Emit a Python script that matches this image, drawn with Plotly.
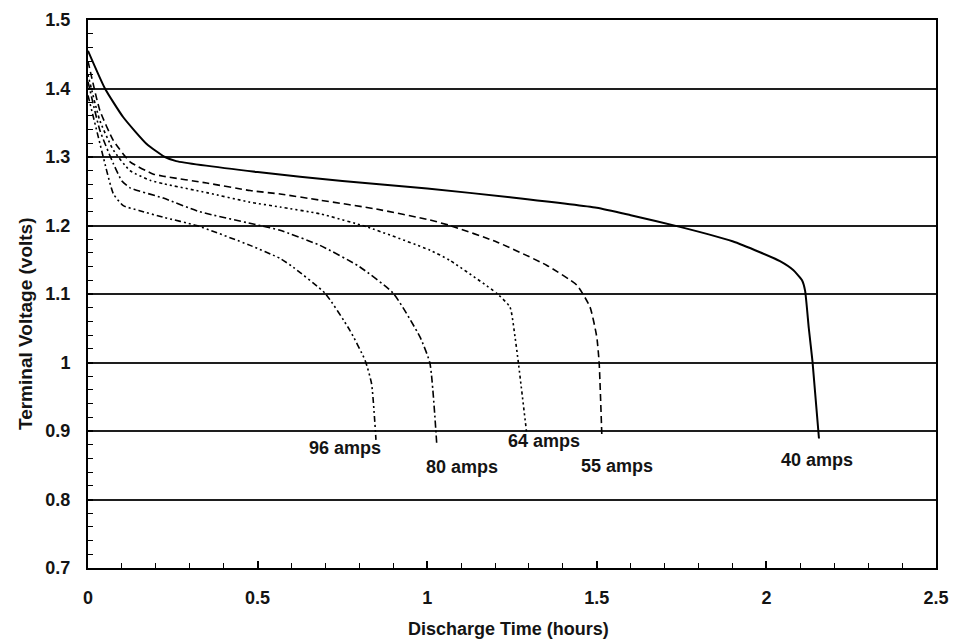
import plotly.graph_objects as go

# ---- data ----
amps40_x = [0, 0.05, 0.104, 0.173, 0.227, 0.26, 0.5, 0.75, 1.0, 1.25, 1.5, 1.6, 1.745, 1.9, 1.981, 2.04, 2.079, 2.105, 2.114, 2.125, 2.136, 2.155]
amps40_y = [1.455, 1.40, 1.358, 1.319, 1.30, 1.294, 1.278, 1.265, 1.254, 1.241, 1.226, 1.215, 1.198, 1.177, 1.161, 1.148, 1.135, 1.12, 1.105, 1.05, 1.001, 0.889]

amps55_x = [0, 0.035, 0.075, 0.124, 0.193, 0.222, 0.35, 0.478, 0.566, 0.684, 0.85, 1.008, 1.067, 1.205, 1.352, 1.441, 1.48, 1.50, 1.507, 1.515]
amps55_y = [1.44, 1.368, 1.324, 1.293, 1.275, 1.272, 1.262, 1.251, 1.246, 1.237, 1.224, 1.208, 1.200, 1.176, 1.142, 1.113, 1.081, 1.037, 0.999, 0.891]

amps64_x = [0, 0.035, 0.075, 0.124, 0.183, 0.222, 0.35, 0.478, 0.566, 0.684, 0.822, 1.008, 1.067, 1.205, 1.244, 1.259, 1.269, 1.293]
amps64_y = [1.42, 1.353, 1.31, 1.28, 1.266, 1.261, 1.248, 1.234, 1.227, 1.217, 1.198, 1.164, 1.149, 1.101, 1.081, 1.037, 0.999, 0.898]

amps80_x = [0, 0.035, 0.075, 0.10, 0.124, 0.222, 0.33, 0.507, 0.566, 0.684, 0.80, 0.90, 0.979, 1.008, 1.028]
amps80_y = [1.41, 1.339, 1.29, 1.265, 1.255, 1.240, 1.220, 1.200, 1.193, 1.171, 1.140, 1.101, 1.037, 0.999, 0.882]

amps96_x = [0, 0.035, 0.045, 0.075, 0.104, 0.15, 0.222, 0.32, 0.478, 0.566, 0.605, 0.699, 0.772, 0.817, 0.836, 0.849]
amps96_y = [1.39, 1.32, 1.30, 1.246, 1.229, 1.222, 1.212, 1.200, 1.171, 1.152, 1.139, 1.101, 1.047, 1.003, 0.969, 0.887]

label_text = ["96 amps", "80 amps", "64 amps", "55 amps", "40 amps"]
label_x = [0.758, 1.103, 1.344, 1.56, 2.149]
label_y = [0.875, 0.847, 0.885, 0.849, 0.858]

x_ticks = [0, 0.5, 1, 1.5, 2, 2.5]
x_tick_text = ["0", "0.5", "1", "1.5", "2", "2.5"]
y_ticks = [0.7, 0.8, 0.9, 1.0, 1.1, 1.2, 1.3, 1.4, 1.5]
y_tick_text = ["0.7", "0.8", "0.9", "1", "1.1", "1.2", "1.3", "1.4", "1.5"]

x_title = "Discharge Time (hours)"
y_title = "Terminal Voltage (volts)"

FONT = "Liberation Sans, Arial, sans-serif"
INK = "#141414"

series = [
    (amps40_x, amps40_y, "solid", 2.0),
    (amps55_x, amps55_y, "7px,4px", 1.6),
    (amps64_x, amps64_y, "2px,3px,2px,3px,3px,3px", 1.6),
    (amps80_x, amps80_y, "7px,3px,2px,3px", 1.6),
    (amps96_x, amps96_y, "6px,3px,2px,3px,2px,3px", 1.6),
]

fig = go.Figure()
for xs, ys, dash, w in series:
    fig.add_trace(go.Scatter(
        x=xs, y=ys, mode="lines",
        line=dict(color="black", width=w, dash=dash, shape="spline", smoothing=0.5),
        showlegend=False, hoverinfo="skip",
    ))

bold18 = dict(family=FONT, size=18, color=INK, weight="bold")

for t, lx, ly in zip(label_text, label_x, label_y):
    fig.add_annotation(x=lx, y=ly, text=t, showarrow=False, font=bold18,
                       xanchor="center", yanchor="middle")

# axis titles
fig.add_annotation(xref="paper", yref="paper", x=0.496, y=-0.111, text=x_title,
                   showarrow=False, font=bold18, xanchor="center", yanchor="middle")
fig.add_annotation(xref="paper", yref="paper", x=-0.0743, y=0.447, text=y_title,
                   showarrow=False, textangle=-90,
                   font=dict(family=FONT, size=19, color=INK, weight="bold"),
                   xanchor="center", yanchor="middle")

axis_common = dict(
    showline=True, linecolor="black", linewidth=2, mirror=True,
    ticks="inside", tickcolor="black", tickwidth=1.5,
    tickfont=bold18, automargin=False,
    zeroline=False,
)

fig.update_xaxes(
    range=[0, 2.5], tickvals=x_ticks, ticktext=x_tick_text, ticklen=7,
    showgrid=False, ticklabelstandoff=12,
    minor=dict(dtick=0.1, tick0=0, ticks="inside", ticklen=5, tickcolor="black", tickwidth=1.2, showgrid=False),
    **axis_common,
)
fig.update_yaxes(
    range=[0.7, 1.5], tickvals=y_ticks, ticktext=y_tick_text, ticklen=5,
    showgrid=True, gridcolor="#1e1e1e", gridwidth=1.7, ticklabelstandoff=12,
    minor=dict(dtick=0.02, tick0=0.7, ticks="inside", ticklen=5, tickcolor="black", tickwidth=1.2, showgrid=False),
    **axis_common,
)

fig.update_layout(
    width=953, height=642,
    margin=dict(l=88, r=17, t=20, b=74, autoexpand=False),
    plot_bgcolor="white", paper_bgcolor="white",
    font=dict(family=FONT, size=18, color=INK),
)

fig.write_html("out.html")
